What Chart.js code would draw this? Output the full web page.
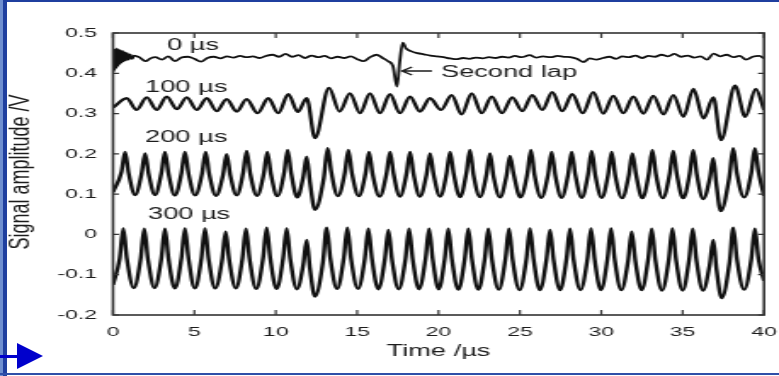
<!DOCTYPE html>
<html>
<head>
<meta charset="utf-8">
<script src="https://cdn.jsdelivr.net/npm/chart.js@4.4.1/dist/chart.umd.min.js"></script>
<style>
  html, body { margin: 0; padding: 0; background: #fff; }
  body { width: 779px; height: 376px; position: relative; overflow: hidden; }
  #wrap { position: absolute; left: 0; top: 0; width: 458px; height: 376px;
          transform: scaleX(1.70087); transform-origin: 0 0; }
  .edge { position: absolute; background: #1f3f9f; }
  #arrow-line { position: absolute; left: 0; top: 355px; width: 18px; height: 3px; background: #0000cc; }
  #arrow-head { position: absolute; left: 17px; top: 343px; width: 0; height: 0;
                border-top: 13px solid transparent; border-bottom: 13px solid transparent;
                border-left: 26px solid #0000cc; }
</style>
</head>
<body>
<div id="wrap"><canvas id="chart" width="458" height="376"></canvas></div>
<div class="edge" style="left:0;top:0;width:779px;height:2px;"></div>
<div class="edge" style="left:0;top:0;width:3px;height:376px;background:#6f8fd0;"></div>
<div class="edge" style="left:3px;top:0;width:4px;height:376px;"></div>
<div class="edge" style="left:0;top:373px;width:779px;height:2px;background:#2f4fa8;"></div>
<div id="arrow-line"></div>
<div id="arrow-head"></div>
<script>
// axis ticks
const xTickValues = [0, 5, 10, 15, 20, 25, 30, 35, 40];
const yTickValues = [-0.2, -0.1, 0, 0.1, 0.2, 0.3, 0.4, 0.5];

// 0 us trace (time in us, amplitude in V)
const t0 = [0, 0.04, 0.09, 0.14, 0.19, 0.24, 0.29, 0.34, 0.39, 0.44, 0.49, 0.54, 0.60, 0.66, 0.72, 0.79, 0.87, 0.96, 1.06, 1.17, 1.30,
  1.6, 2.0, 2.3, 2.6, 3.0, 3.4, 3.8, 4.2, 4.6, 5.0, 5.4, 5.8, 6.2, 6.6, 7.0, 7.4, 7.8, 8.2, 8.6, 9.0, 9.4, 9.8,
  10.2, 10.6, 11.0, 11.4, 11.8, 12.2, 12.6, 13.0, 13.4, 13.8, 14.2, 14.6, 15.0, 15.4, 15.8, 16.2, 16.6, 16.9,
  17.2, 17.45, 17.62, 17.8, 18.0, 18.3, 18.7, 19.1, 19.5, 19.9, 20.3, 20.7, 21.1, 21.5, 21.9, 22.3, 22.7, 23.1,
  23.5, 23.9, 24.3, 24.7, 25.1, 25.6, 26.0, 26.4, 26.9, 27.3, 27.7, 28.1, 28.5, 28.9, 29.3, 29.7, 30.1, 30.5,
  30.9, 31.3, 31.7, 32.1, 32.5, 32.9, 33.3, 33.7, 34.1, 34.5, 34.9, 35.3, 35.7, 36.1, 36.5, 36.9, 37.3, 37.7,
  38.1, 38.5, 38.9, 39.3, 39.7, 40.0];
const v0 = [0.432, 0.404, 0.458, 0.410, 0.462, 0.415, 0.460, 0.420, 0.458, 0.424, 0.456, 0.427, 0.455, 0.430, 0.452, 0.432, 0.450, 0.434, 0.447, 0.436, 0.444,
  0.440, 0.430, 0.437, 0.440, 0.434, 0.442, 0.430, 0.439, 0.441, 0.436, 0.429, 0.438, 0.441, 0.437, 0.442, 0.439, 0.443, 0.440, 0.442, 0.438, 0.443, 0.446,
  0.441, 0.448, 0.441, 0.445, 0.438, 0.444, 0.440, 0.443, 0.437, 0.441, 0.438, 0.442, 0.435, 0.430, 0.440, 0.446, 0.437, 0.430,
  0.418, 0.367, 0.430, 0.476, 0.462, 0.455, 0.450, 0.447, 0.444, 0.442, 0.440, 0.437, 0.435, 0.438, 0.436, 0.439, 0.437, 0.440,
  0.438, 0.441, 0.439, 0.443, 0.440, 0.445, 0.439, 0.442, 0.440, 0.443, 0.441, 0.440, 0.436, 0.428, 0.437, 0.434, 0.438, 0.441,
  0.436, 0.442, 0.440, 0.444, 0.438, 0.443, 0.441, 0.446, 0.442, 0.448, 0.441, 0.444, 0.439, 0.442, 0.434, 0.449, 0.442, 0.446,
  0.440, 0.443, 0.434, 0.441, 0.443, 0.437];

// 100 us trace (peaks and troughs)
const t100 = [0, 0.84, 1.45, 2.07, 2.68, 3.30, 3.92, 4.53, 5.15, 5.76, 6.37, 6.98, 7.60, 8.21, 8.88, 9.54, 10.15, 10.77, 11.35, 11.90,
  12.41, 13.27, 13.92, 14.56, 15.18, 15.79, 16.40, 17.02, 17.63, 18.25, 18.86, 19.48, 20.15, 20.81, 21.42, 22.04, 22.65, 23.27,
  23.90, 24.53, 25.15, 25.76, 26.38, 26.99, 27.60, 28.22, 28.86, 29.51, 30.12, 30.74, 31.35, 31.97, 32.58, 33.20, 33.82, 34.43,
  35.05, 35.66, 36.28, 36.89, 37.36, 38.22, 38.85, 39.49, 40.0];
const v100 = [0.315, 0.338, 0.309, 0.340, 0.309, 0.342, 0.311, 0.340, 0.309, 0.338, 0.306, 0.336, 0.305, 0.336, 0.301, 0.338, 0.301, 0.348, 0.304, 0.338,
  0.239, 0.364, 0.305, 0.350, 0.301, 0.350, 0.301, 0.348, 0.301, 0.342, 0.305, 0.338, 0.309, 0.346, 0.298, 0.350, 0.301, 0.342,
  0.301, 0.340, 0.306, 0.346, 0.309, 0.353, 0.306, 0.348, 0.301, 0.353, 0.300, 0.344, 0.301, 0.342, 0.300, 0.344, 0.298, 0.346,
  0.292, 0.361, 0.288, 0.340, 0.234, 0.369, 0.292, 0.361, 0.309];

// 200 us trace: each row is peak, falling mid-level, trough, rising mid-level
const t200 = [0, 0.52,
  0.74, 0.96, 1.36, 1.75,
  1.97, 2.19, 2.58, 2.97,
  3.19, 3.41, 3.80, 4.20,
  4.42, 4.64, 5.05, 5.47,
  5.69, 5.91, 6.33, 6.76,
  6.98, 7.20, 7.60, 7.99,
  8.21, 8.43, 8.85, 9.26,
  9.48, 9.70, 10.10, 10.51,
  10.73, 10.95, 11.32, 11.69,
  11.90, 12.10, 12.41, 12.95,
  13.19, 13.41, 13.82, 14.24,
  14.46, 14.68, 15.10, 15.51,
  15.73, 15.95, 16.38, 16.80,
  17.02, 17.24, 17.63, 18.03,
  18.25, 18.47, 18.86, 19.26,
  19.48, 19.70, 20.10, 20.49,
  20.71, 20.93, 21.32, 21.71,
  21.93, 22.15, 22.55, 22.94,
  23.16, 23.38, 23.78, 24.17,
  24.39, 24.61, 25.03, 25.46,
  25.68, 25.90, 26.31, 26.73,
  26.95, 27.17, 27.56, 27.96,
  28.18, 28.40, 28.80, 29.19,
  29.41, 29.63, 30.03, 30.42,
  30.64, 30.86, 31.28, 31.69,
  31.91, 32.13, 32.52, 32.92,
  33.14, 33.36, 33.78, 34.20,
  34.42, 34.64, 35.03, 35.43,
  35.65, 35.87, 36.26, 36.67,
  36.88, 37.07, 37.34, 37.86,
  38.11, 38.33, 38.78, 39.22,
  39.44, 39.66, 40.0];
const v200 = [0.105, 0.155,
  0.205, 0.152, 0.098, 0.150,
  0.201, 0.150, 0.098, 0.152,
  0.205, 0.151, 0.097, 0.151,
  0.205, 0.151, 0.097, 0.151,
  0.205, 0.150, 0.096, 0.148,
  0.199, 0.148, 0.097, 0.152,
  0.207, 0.151, 0.096, 0.150,
  0.205, 0.150, 0.095, 0.152,
  0.210, 0.151, 0.092, 0.143,
  0.193, 0.130, 0.061, 0.140,
  0.214, 0.155, 0.095, 0.152,
  0.210, 0.152, 0.095, 0.150,
  0.205, 0.150, 0.094, 0.150,
  0.205, 0.150, 0.094, 0.150,
  0.205, 0.149, 0.094, 0.148,
  0.201, 0.148, 0.094, 0.150,
  0.205, 0.151, 0.093, 0.152,
  0.210, 0.148, 0.093, 0.147,
  0.201, 0.144, 0.092, 0.144,
  0.195, 0.151, 0.092, 0.151,
  0.210, 0.148, 0.091, 0.148,
  0.205, 0.148, 0.091, 0.148,
  0.205, 0.149, 0.091, 0.149,
  0.207, 0.148, 0.091, 0.148,
  0.205, 0.146, 0.090, 0.146,
  0.201, 0.150, 0.090, 0.150,
  0.210, 0.149, 0.090, 0.149,
  0.207, 0.150, 0.090, 0.150,
  0.210, 0.149, 0.088, 0.139,
  0.189, 0.125, 0.058, 0.140,
  0.214, 0.153, 0.092, 0.153,
  0.214, 0.155, 0.096];

// 300 us trace: each row is peak, falling mid-level, trough, rising mid-level
const t300 = [0, 0.41,
  0.63, 0.85, 1.28, 1.70,
  1.92, 2.14, 2.55, 2.97,
  3.19, 3.41, 3.80, 4.20,
  4.42, 4.64, 5.03, 5.43,
  5.65, 5.87, 6.28, 6.70,
  6.92, 7.14, 7.55, 7.95,
  8.17, 8.39, 8.80, 9.22,
  9.44, 9.66, 10.05, 10.45,
  10.67, 10.89, 11.30, 11.69,
  11.90, 12.10, 12.41, 12.90,
  13.13, 13.35, 13.77, 14.18,
  14.40, 14.62, 15.05, 15.47,
  15.69, 15.91, 16.30, 16.70,
  16.92, 17.14, 17.55, 17.97,
  18.19, 18.41, 18.80, 19.20,
  19.42, 19.64, 20.01, 20.38,
  20.60, 20.82, 21.22, 21.61,
  21.83, 22.05, 22.45, 22.84,
  23.06, 23.28, 23.70, 24.11,
  24.33, 24.55, 24.98, 25.40,
  25.62, 25.84, 26.23, 26.63,
  26.85, 27.07, 27.47, 27.86,
  28.08, 28.30, 28.72, 29.15,
  29.37, 29.59, 29.98, 30.38,
  30.60, 30.82, 31.23, 31.65,
  31.87, 32.09, 32.48, 32.88,
  33.10, 33.32, 33.73, 34.15,
  34.37, 34.59, 35.00, 35.40,
  35.62, 35.84, 36.25, 36.66,
  36.88, 37.08, 37.40, 37.88,
  38.11, 38.33, 38.78, 39.22,
  39.44, 39.66, 40.0];
const v300 = [-0.125, -0.060,
  0.015, -0.060, -0.133, -0.060,
  0.014, -0.060, -0.133, -0.060,
  0.014, -0.060, -0.134, -0.060,
  0.015, -0.060, -0.134, -0.060,
  0.015, -0.060, -0.134, -0.064,
  0.007, -0.064, -0.134, -0.060,
  0.014, -0.061, -0.135, -0.059,
  0.017, -0.059, -0.135, -0.060,
  0.015, -0.061, -0.136, -0.075,
  -0.014, -0.085, -0.154, -0.068,
  0.017, -0.059, -0.135, -0.059,
  0.017, -0.059, -0.135, -0.061,
  0.014, -0.061, -0.136, -0.062,
  0.011, -0.062, -0.136, -0.061,
  0.014, -0.061, -0.136, -0.061,
  0.014, -0.061, -0.136, -0.061,
  0.014, -0.061, -0.137, -0.061,
  0.014, -0.061, -0.137, -0.061,
  0.014, -0.061, -0.137, -0.061,
  0.014, -0.062, -0.138, -0.061,
  0.015, -0.061, -0.138, -0.063,
  0.011, -0.063, -0.138, -0.062,
  0.014, -0.062, -0.138, -0.061,
  0.015, -0.061, -0.138, -0.061,
  0.015, -0.061, -0.138, -0.065,
  0.007, -0.065, -0.138, -0.062,
  0.014, -0.062, -0.139, -0.062,
  0.015, -0.062, -0.139, -0.062,
  0.014, -0.062, -0.139, -0.076,
  -0.014, -0.086, -0.158, -0.070,
  0.017, -0.060, -0.137, -0.061,
  0.014, -0.061, -0.115];

// text labels placed in data coordinates
const traceLabels = ['0 \u00b5s', '100 \u00b5s', '200 \u00b5s', '300 \u00b5s', 'Second lap'];
const labelTimes = [3.32, 1.97, 1.97, 2.15, 20.15];
const labelValues = [0.457, 0.3535, 0.230, 0.0376, 0.392];

const STRETCH = 779 / 458;
const FONT = '"Liberation Sans", Arial, sans-serif';
const INK = '#1c1c1c';

function toPoints(ts, vs) {
  return ts.map((t, i) => ({ x: t, y: vs[i] }));
}

// frame, inside tick marks, trace labels, arrow and y title
const decorPlugin = {
  id: 'decor',
  afterDatasetsDraw(chart) {
    const { ctx, chartArea: a, scales: { x, y } } = chart;
    ctx.save();
    ctx.strokeStyle = '#333';
    ctx.lineWidth = 1.6;
    ctx.strokeRect(a.left, a.top, a.right - a.left, a.bottom - a.top);

    ctx.lineWidth = 1.2;
    ctx.beginPath();
    xTickValues.forEach(v => {
      const px = x.getPixelForValue(v);
      ctx.moveTo(px, a.bottom); ctx.lineTo(px, a.bottom - 5);
      ctx.moveTo(px, a.top); ctx.lineTo(px, a.top + 5);
    });
    yTickValues.forEach(v => {
      const py = y.getPixelForValue(v);
      ctx.moveTo(a.left, py); ctx.lineTo(a.left + 3.5, py);
      ctx.moveTo(a.right, py); ctx.lineTo(a.right - 3.5, py);
    });
    ctx.stroke();

    ctx.fillStyle = INK;
    ctx.font = '16px ' + FONT;
    ctx.textAlign = 'left';
    ctx.textBaseline = 'alphabetic';
    traceLabels.forEach((txt, i) => {
      ctx.fillText(txt, x.getPixelForValue(labelTimes[i]), y.getPixelForValue(labelValues[i]));
    });

    // arrow pointing at the second lap echo
    const ay = y.getPixelForValue(0.4057);
    const tip = x.getPixelForValue(17.76);
    ctx.strokeStyle = INK;
    ctx.lineWidth = 1.4;
    ctx.beginPath();
    ctx.moveTo(x.getPixelForValue(19.6), ay);
    ctx.lineTo(tip, ay);
    ctx.moveTo(x.getPixelForValue(18.37), y.getPixelForValue(0.4157));
    ctx.lineTo(tip, ay);
    ctx.lineTo(x.getPixelForValue(18.37), y.getPixelForValue(0.3957));
    ctx.stroke();

    // y axis title, drawn less stretched than the rest
    ctx.save();
    ctx.translate(22 / STRETCH, (a.top + a.bottom) / 2 - 2);
    ctx.scale(0.9, 1);
    ctx.rotate(-Math.PI / 2);
    ctx.textAlign = 'center';
    ctx.textBaseline = 'middle';
    ctx.font = '18px ' + FONT;
    ctx.fillText('Signal amplitude /V', 0, 0);
    ctx.restore();
    ctx.restore();
  }
};

const line = (data, width) => ({
  data,
  borderColor: '#111',
  borderWidth: width,
  pointRadius: 0,
  cubicInterpolationMode: 'monotone',
  fill: false
});

new Chart(document.getElementById('chart'), {
  type: 'line',
  data: {
    datasets: [
      line(toPoints(t0, v0), 1.8),
      line(toPoints(t100, v100), 2.3),
      line(toPoints(t200, v200), 2.4),
      line(toPoints(t300, v300), 2.4)
    ]
  },
  options: {
    responsive: false,
    animation: false,
    devicePixelRatio: 1,
    layout: { padding: { left: 0, right: 8.82, top: 33, bottom: 0 } },
    plugins: { legend: { display: false }, tooltip: { enabled: false } },
    scales: {
      x: {
        type: 'linear', min: 0, max: 40,
        grid: { display: false, drawTicks: false },
        border: { display: false },
        afterBuildTicks: s => { s.ticks = xTickValues.map(v => ({ value: v })); },
        afterFit: s => { s.height = 61; s.paddingLeft = 0; s.paddingRight = 0; },
        ticks: { padding: 9, color: INK, maxRotation: 0, autoSkip: false,
                 font: { family: FONT, size: 13.5 } },
        title: { display: true, text: 'Time /\u00b5s', color: INK,
                 font: { family: FONT, size: 16 }, padding: { top: 0, bottom: 14.6 } }
      },
      y: {
        type: 'linear', min: -0.2, max: 0.5,
        grid: { display: false, drawTicks: false },
        border: { display: false },
        afterBuildTicks: s => { s.ticks = yTickValues.map(v => ({ value: v })); },
        afterFit: s => { s.width = 66.44; s.paddingTop = 0; s.paddingBottom = 0; },
        ticks: { padding: 9.4, color: INK, font: { family: FONT, size: 13.5 },
                 callback: v => (Math.abs(v) < 1e-9 ? '0' : String(Math.round(v * 10) / 10)) }
      }
    }
  },
  plugins: [decorPlugin]
});
</script>
</body>
</html>
